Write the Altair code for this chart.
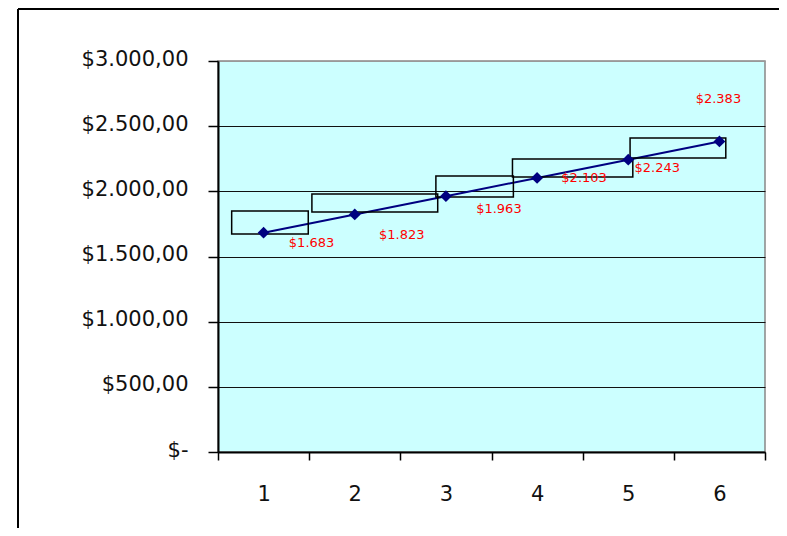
import altair as alt
import pandas as pd

# ---- data ----
periods = [1, 2, 3, 4, 5, 6]
amounts = [1683, 1823, 1963, 2103, 2243, 2383]

# drawn rectangles (in data units: period axis / dollar axis)
box_start = [0.65, 1.53, 2.89, 3.73, 5.02]
box_end = [1.49, 2.91, 3.74, 5.05, 6.07]
box_low = [1673, 1841, 1957, 2110, 2256]
box_high = [1849, 1980, 2118, 2248, 2409]

y_ticks = [0, 500, 1000, 1500, 2000, 2500, 3000]
x_ticks = [0.5, 1, 1.5, 2, 2.5, 3, 3.5, 4, 4.5, 5, 5.5, 6, 6.5]

# ---- tables ----
pts = pd.DataFrame({"period": periods, "amount": amounts})
pts["label"] = ["$" + f"{v:,}".replace(",", ".") for v in amounts]
boxes = pd.DataFrame({"x0": box_start, "x1": box_end, "y0": box_low, "y1": box_high})

# label placement (pixel offsets, style only)
label_offsets = [(48, 10), (47, 21), (53, 13), (47, 0), (29, 8), (-1, -42)]

W, H = 547, 391

xscale = alt.Scale(domain=[0.5, 6.5], nice=False, zero=False)
yscale = alt.Scale(domain=[0, 3000], nice=False)

nb = "\u00a0"
ylabel = ("datum.value == 0 ? '$-" + nb * 5 + "' : '$' + replace(replace(replace("
          "format(datum.value, ',.2f'), ',', '#'), '.', ','), '#', '.')")

xaxis = alt.Axis(
    values=x_ticks, title=None, grid=False,
    labelExpr="datum.value % 1 == 0 ? format(datum.value, 'd') : ''",
    tickOpacity={"condition": {"test": "datum.value % 1 == 0", "value": 0}, "value": 1},
    tickSize=8, tickColor="black", tickWidth=1.5,
    domainColor="black", domainWidth=2,
    labelFont="DejaVu Sans", labelFontSize=21, labelColor="#111111",
    labelPadding=23, labelOverlap=False, labelBound=False, labelFlush=False,
)
yaxis = alt.Axis(
    values=y_ticks, title=None, grid=True,
    gridColor={"condition": {"test": "datum.value == 3000", "value": "#999999"}, "value": "#111111"},
    gridWidth=1,
    labelExpr=ylabel,
    tickSize=10, tickColor="black", tickWidth=1.5,
    domainColor="black", domainWidth=2,
    labelFont="DejaVu Sans", labelFontSize=21, labelColor="#111111",
    labelPadding=20, labelOffset=-2, labelOverlap=False, labelBound=False,
)

one = pd.DataFrame({"k": [0]})
frame_top = alt.Chart(one).mark_rule(color="black", strokeWidth=2).encode(
    x=alt.value(-200), x2=alt.value(W + 14), y=alt.value(-52),
)
frame_left = alt.Chart(one).mark_rule(color="black", strokeWidth=2).encode(
    x=alt.value(-200), y=alt.value(-52), y2=alt.value(H + 76),
)

base = alt.Chart(pts)

line = base.mark_line(color="#000080", strokeWidth=2).encode(
    x=alt.X("period:Q", scale=xscale, axis=xaxis),
    y=alt.Y("amount:Q", scale=yscale, axis=yaxis),
)

rects = alt.Chart(boxes).mark_rect(
    fillOpacity=0, stroke="black", strokeWidth=1.5
).encode(
    x=alt.X("x0:Q", scale=xscale), x2="x1:Q",
    y=alt.Y("y0:Q", scale=yscale), y2="y1:Q",
)

points = base.mark_point(shape="diamond", filled=True, color="#000080", size=140, opacity=1).encode(
    x=alt.X("period:Q", scale=xscale),
    y=alt.Y("amount:Q", scale=yscale),
)

labels = []
for p, (dx, dy) in zip(periods, label_offsets):
    labels.append(
        base.transform_filter(alt.datum.period == p).mark_text(
            color="#FF0000", font="DejaVu Sans", fontSize=13,
            align="center", baseline="middle", dx=dx, dy=dy,
        ).encode(
            x=alt.X("period:Q", scale=xscale),
            y=alt.Y("amount:Q", scale=yscale),
            text="label:N",
        )
    )

chart = alt.layer(frame_top, frame_left, line, rects, points, *labels).properties(
    width=W, height=H,
    autosize=alt.AutoSizeParams(type="none"),
    padding={"left": 210, "top": 53, "right": 14, "bottom": 76},
    background="white",
).configure_view(
    fill="#CCFFFF", stroke="#888888", strokeWidth=1.5,
)

chart.save("out.html", embed_options={"renderer": "svg", "actions": False})
